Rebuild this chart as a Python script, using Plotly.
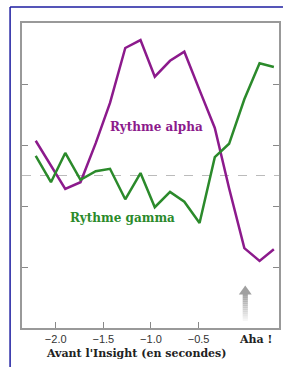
import plotly.graph_objects as go

# ---- data ----
temps = [-2.21, -2.05, -1.90, -1.74, -1.58, -1.43, -1.27, -1.11, -0.96,
         -0.80, -0.65, -0.49, -0.33, -0.18, -0.02, 0.14, 0.29]
alpha = [0.57, 0.17, -0.22, -0.11, 0.53, 1.19, 2.09, 2.22, 1.62,
         1.88, 2.03, 1.40, 0.78, -0.21, -1.19, -1.40, -1.21]
gamma = [0.32, -0.11, 0.37, -0.07, 0.07, 0.11, -0.39, 0.04, -0.52,
         -0.27, -0.43, -0.78, 0.30, 0.52, 1.25, 1.84, 1.78]
xtick_vals = [-2.0, -1.5, -1.0, -0.5]
xtick_text = ["\u22122.0", "\u22121.5", "\u22121.0", "\u22120.5"]
ytick_vals = [-1.5, -0.5, 0.5, 1.5]

W, H = 285, 367
L, R, T, B = 22, 281, 23, 328

def px(x):
    return (x - L) / (R - L)

def py(y):
    return (B - y) / (B - T)

PURPLE = "#8c1a8c"
GREEN = "#2b8a2b"

fig = go.Figure()
fig.add_trace(go.Scatter(x=temps, y=alpha, mode="lines",
                         line=dict(color=PURPLE, width=2.5), showlegend=False))
fig.add_trace(go.Scatter(x=temps, y=gamma, mode="lines",
                         line=dict(color=GREEN, width=2.5), showlegend=False))

shapes = []
# zero dashed line
shapes.append(dict(type="line", xref="paper", yref="y", x0=0, x1=1, y0=0, y1=0,
                   line=dict(color="#bbbbbb", width=1, dash="dash"), layer="below"))
# outer blue frame (left and top)
shapes.append(dict(type="line", xref="paper", yref="paper",
                   x0=px(10), x1=px(10), y0=py(7), y1=py(367),
                   line=dict(color="#1c1ca0", width=1.5)))
shapes.append(dict(type="line", xref="paper", yref="paper",
                   x0=px(10), x1=px(285), y0=py(7), y1=py(7),
                   line=dict(color="#1c1ca0", width=1.5)))
# gradient arrow shaft
cx = 247
n = 14
top, bot = 294, 323
for i in range(n):
    y0 = top + (bot - top) * i / n
    y1 = top + (bot - top) * (i + 1) / n
    g = int(165 + (255 - 165) * (i / (n - 1)) ** 1.2)
    shapes.append(dict(type="rect", xref="paper", yref="paper",
                       x0=px(cx - 2.6), x1=px(cx + 2.6), y0=py(y0), y1=py(y1),
                       fillcolor=f"rgb({g},{g},{g})", line=dict(width=0)))
# arrow head
shapes.append(dict(type="path", xref="paper", yref="paper",
                   path=f"M {px(cx-6.5)},{py(294.5)} L {px(cx)},{py(285.5)} L {px(cx+6.5)},{py(294.5)} Z",
                   fillcolor="#a0a0a0", line=dict(width=0)))

def ann(text, x, y, size, color):
    return dict(text=text, x=px(x), y=py(y), xref="paper", yref="paper",
                xanchor="center", yanchor="middle", showarrow=False,
                font=dict(family="DejaVu Serif", size=size, color=color))

annotations = [
    ann("<b>Rythme alpha</b>", 157.5, 127, 12, PURPLE),
    ann("<b>Rythme gamma</b>", 123.5, 218, 12, GREEN),
    ann("<b>Aha !</b>", 257, 339, 11, "#222222"),
    ann("<b>Avant l'Insight (en secondes)</b>", 137, 353, 11, "#222222"),
]

fig.update_layout(
    width=W, height=H,
    margin=dict(l=L, r=W - R, t=T, b=H - B),
    paper_bgcolor="white", plot_bgcolor="white",
    shapes=shapes, annotations=annotations,
    xaxis=dict(range=[-2.354, 0.344], tickmode="array", tickvals=xtick_vals,
               ticktext=xtick_text, ticks="inside", ticklen=6, tickcolor="#888888",
               tickwidth=1, showline=True, linecolor="#999999", linewidth=1.5,
               mirror=True, showgrid=False, zeroline=False,
               tickfont=dict(family="Liberation Sans", size=11, color="#333333")),
    yaxis=dict(range=[-2.5, 2.5], tickmode="array", tickvals=ytick_vals,
               ticks="inside", ticklen=6, tickcolor="#888888", tickwidth=1,
               showticklabels=False, showline=True, linecolor="#999999",
               linewidth=1.5, mirror="ticks", showgrid=False, zeroline=False),
)

fig.write_html("out.html", config={"displayModeBar": False},
               post_script="document.body.style.margin='0';")
